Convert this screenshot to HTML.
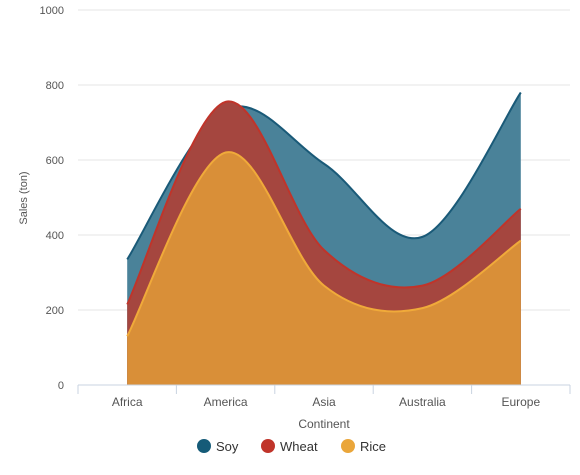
<!DOCTYPE html>
<html><head><meta charset="utf-8"><style>
body{margin:0;background:#fff;font-family:"Liberation Sans",sans-serif;}
svg text{font-family:"Liberation Sans",sans-serif;}
</style></head><body>
<svg id="chart" width="580" height="470"></svg>
<script>
const categories=["Africa","America","Asia","Australia","Europe"];
const soy=[335,735,590,395,780];
const wheat=[215,755,360,265,470];
const rice=[130,620,265,205,385];
const yTicks=[0,200,400,600,800,1000];
const NS="http://www.w3.org/2000/svg";
const svg=document.getElementById("chart");
const X0=78,X1=570,Y0=385,Y1=10;
const bw=(X1-X0)/categories.length;
const xs=i=>X0+bw*(i+0.5);
const ys=v=>Y0-(v/1000)*(Y0-Y1);
function mk(t,a,p){const e=document.createElementNS(NS,t);for(const k in a)e.setAttribute(k,a[k]);(p||svg).appendChild(e);return e;}
yTicks.forEach(v=>{
  const l=mk("line",{x1:X0,x2:X1,y1:ys(v),y2:ys(v),stroke:"#e6e6e6","stroke-width":1});
  
  
  const t=mk("text",{x:64,y:ys(v)+4,"text-anchor":"end","font-size":11,fill:"#555"});
  t.textContent=v;
  
  
});
function spline(vals){
  const p=vals.map((v,i)=>[xs(i),ys(v)]);
  let d="M"+p[0][0]+","+p[0][1];
  for(let i=0;i<p.length-1;i++){
    const p0=p[i-1]||p[i],p1=p[i],p2=p[i+1],p3=p[i+2]||p[i+1];
    const c1=[p1[0]+(p2[0]-p0[0])/6,p1[1]+(p2[1]-p0[1])/6];
    const c2=[p2[0]-(p3[0]-p1[0])/6,p2[1]-(p3[1]-p1[1])/6];
    d+=` C${c1[0]},${c1[1]} ${c2[0]},${c2[1]} ${p2[0]},${p2[1]}`;
  }
  return d;
}
const series=[["soy",soy,"#4a8299","#1a5a78"],["wheat",wheat,"#a5463f","#c0342a"],["rice",rice,"#d98f38","#f0aa3a"]];
series.forEach(([n,vals,fill,stroke])=>{
  const line=spline(vals);
  const a=mk("path",{d:line+` L${xs(vals.length-1)},${Y0} L${xs(0)},${Y0} Z`,fill:fill});
  
  
  const l=mk("path",{d:line,fill:"none",stroke:stroke,"stroke-width":2});
  
  
});
const ax=mk("line",{x1:X0,x2:X1,y1:Y0,y2:Y0,stroke:"#c9d3e0"});


for(let i=0;i<=categories.length;i++){
  const t=mk("line",{x1:X0+bw*i,x2:X0+bw*i,y1:Y0,y2:Y0+9,stroke:"#c9d3e0"});
  
  
}
categories.forEach((c,i)=>{
  const t=mk("text",{x:xs(i),y:406,"text-anchor":"middle","font-size":12,fill:"#555"});
  t.textContent=c;
  
  
});
const xt=mk("text",{x:324,y:428,"text-anchor":"middle","font-size":12,fill:"#555"});
xt.textContent="Continent";


const yt=mk("text",{x:0,y:0,"text-anchor":"middle","font-size":11,fill:"#555",transform:"translate(27,198) rotate(-90)"});
yt.textContent="Sales (ton)";


const leg=[["Soy","#155b78",204],["Wheat","#c0342a",268],["Rice","#eaa63a",348]];
leg.forEach(([n,c,x])=>{
  const g=mk("g",{});
  
  
  mk("circle",{cx:x,cy:446,r:7,fill:c},g);
  const t=mk("text",{x:x+12,y:451,"font-size":13,fill:"#333"},g);
  t.textContent=n;
});
</script>
</body></html>
